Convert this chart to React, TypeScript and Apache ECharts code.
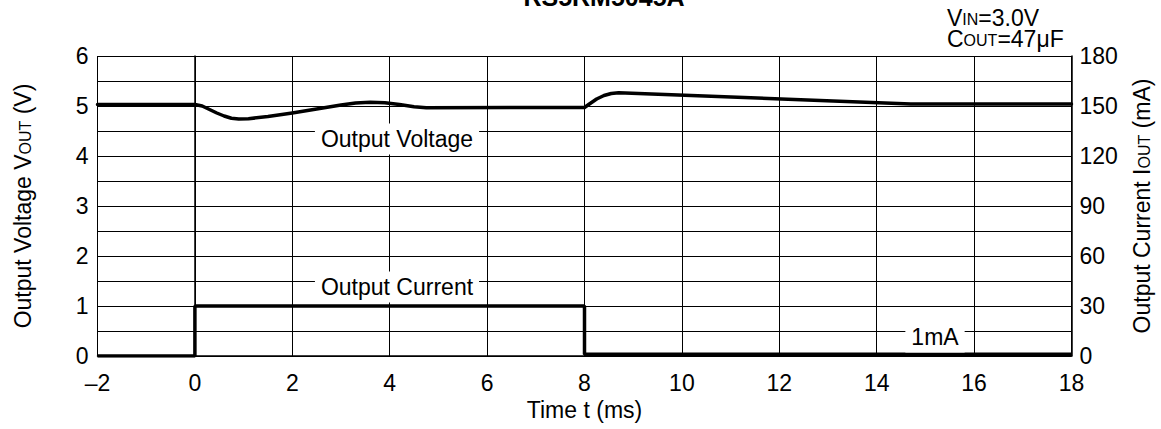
import React, { useEffect, useRef } from "react";
import * as echarts from "echarts";

const titleText = "RS5RM5045A";
const voltageData: [number, number][] = [
  [-2, 5.03], [0, 5.03], [0.15, 5.0], [0.3, 4.93], [0.45, 4.86], [0.6, 4.8],
  [0.75, 4.755], [0.9, 4.74], [1.1, 4.745], [1.5, 4.79], [2.0, 4.86], [2.5, 4.94],
  [3.0, 5.02], [3.3, 5.06], [3.6, 5.075], [3.9, 5.065], [4.2, 5.03], [4.5, 4.985],
  [4.75, 4.965], [8.0, 4.97], [8.1, 5.04], [8.25, 5.14], [8.4, 5.21], [8.55, 5.25],
  [8.7, 5.265], [14.7, 5.04], [18, 5.04],
];
const currentData: [number, number][] = [
  [-2, 0], [0, 0], [0, 30], [8, 30], [8, 1], [18, 1],
];
const xTicks = { min: -2, max: 18, interval: 2 };
const vTicks = { min: 0, max: 6, interval: 0.5 };
const iTicks = { min: 0, max: 180, interval: 30 };

const FONT = "Liberation Sans, Arial, sans-serif";
const FS = 23;

export default function App() {
  const ref = useRef<HTMLDivElement>(null);
  useEffect(() => {
    document.body.style.margin = "0";
    const chart = echarts.init(ref.current!, undefined, { renderer: "svg" });
    const sub = { fontSize: 16, fontFamily: FONT, color: "#000", verticalAlign: "bottom" as const, lineHeight: 17 };
    const nrm = { fontSize: FS, fontFamily: FONT, color: "#000", verticalAlign: "bottom" as const, lineHeight: 22 };
    const subT = { ...sub, lineHeight: 15 };
    const labelBox = (text: string, x: number, y: number) => ({
      type: "text",
      x,
      y,
      z: 10,
      style: {
        text,
        fill: "#000",
        font: `${FS}px ${FONT}`,
        align: "center",
        verticalAlign: "middle",
        backgroundColor: "#fff",
        padding: [4, 6, 4, 6],
      },
    });
    chart.setOption({
      animation: false,
      grid: { left: 97.5, right: 88.5, top: 56, bottom: 73, containLabel: false },
      xAxis: {
        type: "value",
        min: xTicks.min,
        max: xTicks.max,
        interval: xTicks.interval,
        name: "Time t (ms)",
        nameLocation: "middle",
        nameGap: 42,
        nameTextStyle: { fontSize: FS, fontFamily: FONT, color: "#000" },
        axisLine: { show: true, lineStyle: { color: "#000", width: 1.5 } },
        axisTick: { show: false },
        axisLabel: {
          fontSize: FS,
          fontFamily: FONT,
          color: "#000",
          margin: 15,
          formatter: (v: number) => (v < 0 ? "\u2013" + Math.abs(v) : String(v)),
        },
        splitLine: { show: true, lineStyle: { color: "#000", width: 1 } },
      },
      yAxis: [
        {
          type: "value",
          min: vTicks.min,
          max: vTicks.max,
          interval: vTicks.interval,
          name: "Output Voltage V{s|OUT} (V)",
          nameLocation: "middle",
          nameRotate: 90,
          nameGap: 64,
          nameTextStyle: { rich: { s: sub }, ...nrm },
          axisLine: { show: true, lineStyle: { color: "#000", width: 1.5 } },
          axisTick: { show: false },
          axisLabel: {
            fontSize: FS,
            fontFamily: FONT,
            color: "#000",
            margin: 9,
            formatter: (v: number) => (Math.abs(v % 1) < 1e-9 ? String(v) : ""),
          },
          splitLine: { show: true, lineStyle: { color: "#000", width: 1 } },
        },
        {
          type: "value",
          min: iTicks.min,
          max: iTicks.max,
          interval: iTicks.interval,
          position: "right",
          name: "Output Current I{s|OUT} (mA)",
          nameLocation: "middle",
          nameRotate: 90,
          nameGap: 81,
          nameTextStyle: { rich: { s: sub }, ...nrm },
          axisLine: { show: true, lineStyle: { color: "#000", width: 1.5 } },
          axisTick: { show: false },
          axisLabel: { fontSize: FS, fontFamily: FONT, color: "#000", margin: 8 },
          splitLine: { show: false },
        },
      ],
      series: [
        {
          type: "line",
          data: voltageData,
          yAxisIndex: 0,
          showSymbol: false,
          smooth: false,
          lineStyle: { color: "#000", width: 3.5, join: "round", cap: "round" },
          z: 5,
        },
        {
          type: "line",
          data: currentData,
          yAxisIndex: 1,
          showSymbol: false,
          lineStyle: { color: "#000", width: 3.5 },
          z: 5,
        },
      ],
      graphic: [
        {
          type: "text",
          x: 604,
          y: -3,
          style: { text: titleText, fill: "#000", font: `bold 25px ${FONT}`, align: "center", verticalAlign: "middle" },
        },
        {
          type: "text",
          x: 947,
          y: 17.5,
          style: {
            text: "V{s|IN}=3.0V",
            align: "left",
            verticalAlign: "middle",
            rich: { s: subT },
            fill: "#000",
            font: `${FS}px ${FONT}`,
            lineHeight: 19,
          },
        },
        {
          type: "text",
          x: 947,
          y: 39,
          style: {
            text: "C{s|OUT}=47\u03bcF",
            align: "left",
            verticalAlign: "middle",
            rich: { s: subT },
            fill: "#000",
            font: `${FS}px ${FONT}`,
            lineHeight: 19,
          },
        },
        labelBox("Output Voltage", 397, 139),
        labelBox("Output Current", 397, 287),
        labelBox("1mA", 935, 337),
      ],
    });
    return () => chart.dispose();
  }, []);
  return <div ref={ref} style={{ width: 1161, height: 429 }} />;
}
